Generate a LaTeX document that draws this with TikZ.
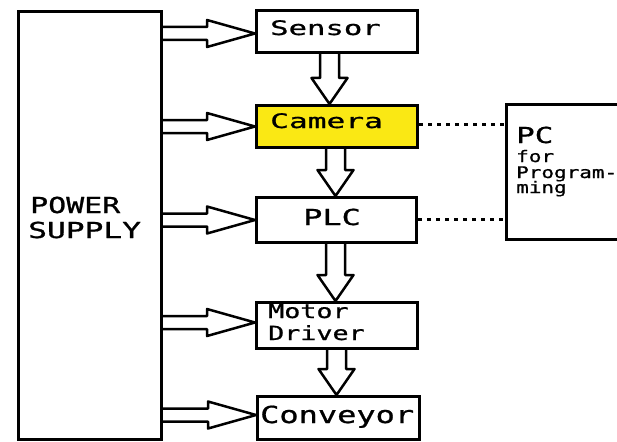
\documentclass[tikz,border=0pt]{standalone}
\usepackage{fontspec}
\setmainfont{DejaVu Sans}
\newfontfamily\lblfont[FakeBold=0.8]{DejaVu Sans Mono}
\usetikzlibrary{calc}
\definecolor{camyellow}{RGB}{250,232,20}
\pgfdeclarelayer{bg}
\pgfsetlayers{bg,main}
\newcommand\lbl[3]{\scalebox{#1}[1]{\fontsize{#2}{#2}\lblfont #3}}
\begin{document}
\begin{tikzpicture}[x=1pt,y=-1pt,
  box/.style={draw=black,line width=3pt,fill=white,inner sep=0pt,anchor=north west},
  txt/.style={anchor=base west,inner sep=0pt,text=black},
  blk/.style={draw=black,fill=white,line width=2.5pt,line join=round},
  dotline/.style={draw=black,line width=3pt,dash pattern=on 4pt off 5pt},
  pics/harrow/.style={code={\path[blk] (-#1,-6.5) -- (-48,-6.5) -- (-48,-13.5) -- (0,0) -- (-48,13.5) -- (-48,6.5) -- (-#1,6.5);}},
  pics/varrow/.style={code={\path[blk] (-9.5,-#1) -- (-9.5,-26) -- (-18,-26) -- (0,0) -- (18,-26) -- (9.5,-26) -- (9.5,-#1);}}
]
\useasboundingbox (0,0) rectangle (617,441);
\clip (0,0) rectangle (617,441);

% boxes
\node[box,minimum width=143.5,minimum height=428] (ps) at (16.5,10) {};
\node[box,minimum width=161,minimum height=42] (sensor) at (255,9) {};
\node[box,fill=camyellow,minimum width=161,minimum height=42] (camera) at (255,104) {};
\node[box,minimum width=160,minimum height=45] (plc) at (255,196) {};
\node[box,minimum width=161,minimum height=46] (motor) at (255,301) {};
\node[box,minimum width=162,minimum height=43] (conveyor) at (256,395) {};
\node[box,minimum width=130,minimum height=135] (pc) at (505,103) {};

% texts
\node[txt] (t-sensor) at (270,35) {\lbl{1.53}{20}{Sensor}};
\node[txt] (t-camera) at (270,128) {\lbl{1.56}{20}{Camera}};
\node[txt] (t-plc) at (303,225) {\lbl{1.45}{22}{PLC}};
\node[txt] (t-motor) at (268,318) {\lbl{1.37}{19.5}{Motor}};
\node[txt] (t-driver) at (268,340) {\lbl{1.37}{19.5}{Driver}};
\node[txt] (t-conveyor) at (260,423) {\lbl{1.36}{23.5}{Conveyor}};
\node[txt] (t-power) at (30,213) {\lbl{1.36}{22}{POWER}};
\node[txt] (t-supply) at (28,238) {\lbl{1.42}{22}{SUPPLY}};
\node[txt] (t-pc) at (516,143) {\lbl{1.4}{22}{PC}};
\node[txt] (t-for) at (516,162) {\lbl{1.31}{16}{for}};
\node[txt] (t-prog) at (516,178) {\lbl{1.31}{16}{Program-}};
\node[txt] (t-ming) at (516,193) {\lbl{1.31}{16}{ming}};

% block arrows
\begin{pgfonlayer}{bg}
\pic at ($(sensor.west)+(0,2)$) {harrow=94};
\pic at (camera.west) {harrow=94};
\pic at (plc.west) {harrow=94};
\pic at ($(motor.west)+(0,-3)$) {harrow=94};
\pic at ($(conveyor.west)+(0,-3)$) {harrow=94};
\pic at ($(camera.north)+(-7.5,0)$) {varrow=52};
\pic at ($(plc.north)+(-1,0)$) {varrow=49};
\pic at ($(motor.north)+(-1.5,0)$) {varrow=59};
\pic at ($(conveyor.north)+(-2,0)$) {varrow=47};
\end{pgfonlayer}

% dotted links
\draw[dotline] ($(camera.east)+(0,-2)$) -- ($(camera.east -| pc.west)+(0,-2)$);
\draw[dotline] ($(plc.east)+(0,-1)$) -- ($(plc.east -| pc.west)+(0,-1)$);
\end{tikzpicture}
\end{document}
